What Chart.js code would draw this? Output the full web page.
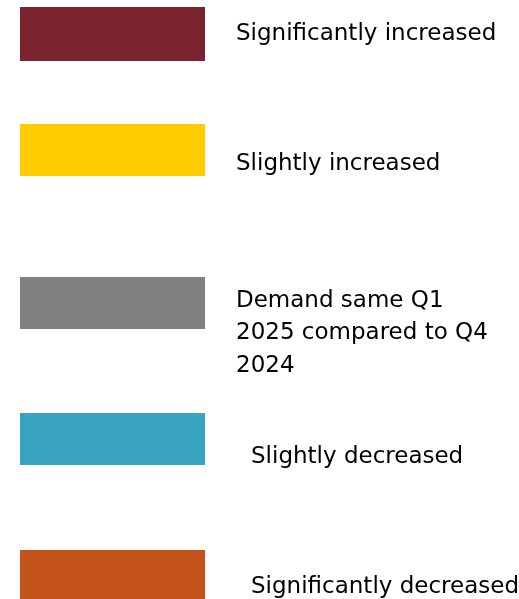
<!DOCTYPE html>
<html>
<head>
<meta charset="utf-8">
<script src="https://cdn.jsdelivr.net/npm/chart.js@4"></script>
<style>
  html, body { margin: 0; padding: 0; background: #fff; }
</style>
</head>
<body>
<canvas id="legendChart" width="519" height="599"></canvas>
<script>
// Categorias de la encuesta de demanda y sus colores
const categorias = [
    ['Significantly increased'],
    ['Slightly increased'],
    ['Demand same Q1', '2025 compared to Q4', '2024'],
    ['Slightly decreased'],
    ['Significantly decreased']
];
const colores = ['#7B2430', '#FFCC00', '#808080', '#3AA3C0', '#C4521B'];

// Posicion de cada cuadro y su texto (solo layout)
const cajaTop = [7, 124, 277, 413, 550];
const cajaAlto = [54, 52, 52, 52, 52];
const textoX = [236, 236, 236, 251, 251];
const textoBase = [39.5, 169.5, 306.5, 462.5, 592.5];
const interlinea = 32.5;

// Plugin que dibuja la leyenda a partir de los datasets
const leyendaPlugin = {
    id: 'leyendaCajas',
    afterDraw(chart) {
        const ctx = chart.ctx;
        ctx.save();
        chart.data.datasets.forEach((ds, i) => {
            ctx.fillStyle = ds.backgroundColor;
            ctx.fillRect(20, cajaTop[i], 185, cajaAlto[i]);
            ctx.fillStyle = '#000';
            ctx.font = '23px "DejaVu Sans"';
            ctx.textBaseline = 'alphabetic';
            ctx.textAlign = 'left';
            [].concat(ds.label).forEach((linea, j) => {
                ctx.fillText(linea, textoX[i], textoBase[i] + j * interlinea);
            });
        });
        ctx.restore();
    }
};

const datasets = categorias.map((c, i) => ({
    label: c,
    data: [],
    backgroundColor: colores[i]
}));

const leyendaChart = new Chart(document.getElementById('legendChart'), {
    type: 'bar',
    data: { labels: [], datasets: datasets },
    options: {
        responsive: false,
        animation: false,
        layout: { padding: 0 },
        scales: { x: { display: false }, y: { display: false } },
        plugins: { legend: { display: false }, tooltip: { enabled: false } }
    },
    plugins: [leyendaPlugin]
});
</script>
</body>
</html>
